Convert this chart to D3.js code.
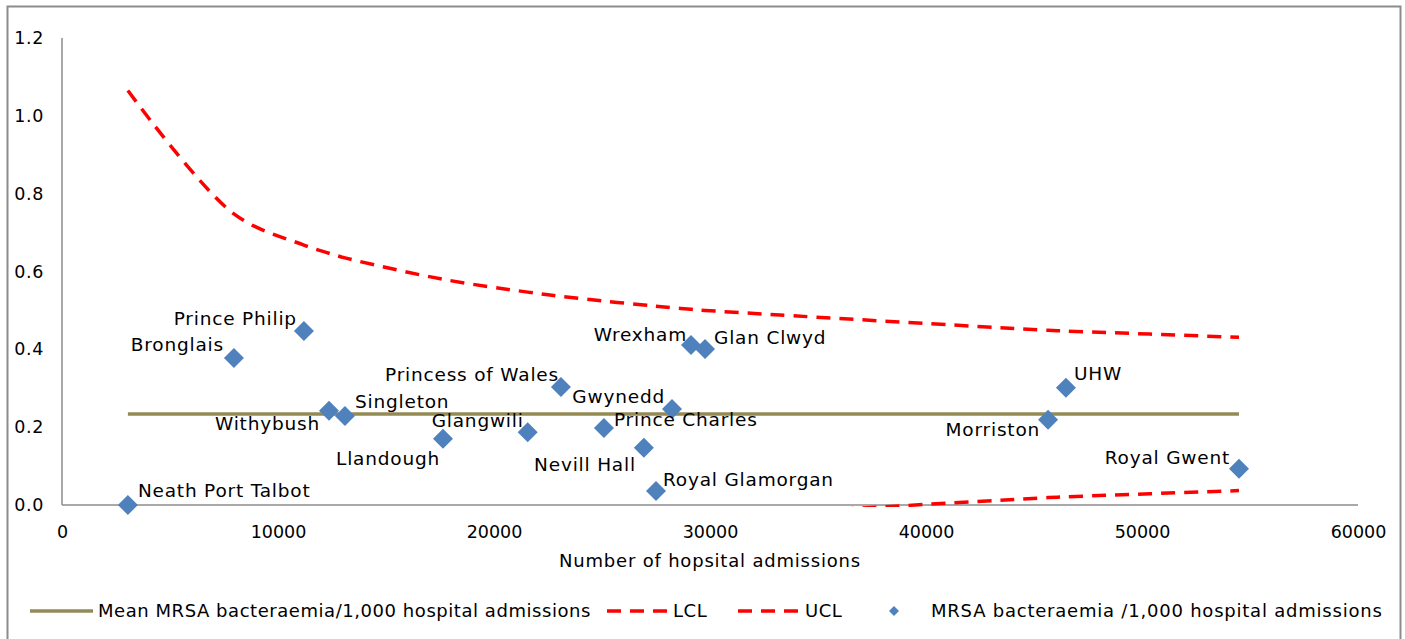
<!DOCTYPE html>
<html>
<head>
<meta charset="utf-8">
<script src="https://cdn.jsdelivr.net/npm/d3@7"></script>
<style>
  body { margin: 0; background: #fff; }
  svg { display: block; font-family: "DejaVu Sans", Verdana, sans-serif; }
</style>
</head>
<body>
<svg id="chart" width="1405" height="639"></svg>
<script>
// hospital data
var hospitals = ["Neath Port Talbot", "Bronglais", "Prince Philip", "Withybush", "Singleton",
  "Llandough", "Glangwili", "Princess of Wales", "Prince Charles", "Nevill Hall",
  "Royal Glamorgan", "Gwynedd", "Wrexham", "Glan Clwyd", "Morriston", "UHW", "Royal Gwent"];
var admissions = [3050, 7960, 11200, 12360, 13100, 17640, 21560, 23100, 25090, 26940,
  27500, 28240, 29120, 29770, 45650, 46480, 54490];
var mrsaRate = [0.000, 0.378, 0.447, 0.242, 0.229, 0.170, 0.187, 0.303, 0.198, 0.147,
  0.036, 0.247, 0.411, 0.401, 0.219, 0.301, 0.093];
var meanRate = [0.234, 0.234, 0.234, 0.234, 0.234, 0.234, 0.234, 0.234, 0.234, 0.234,
  0.234, 0.234, 0.234, 0.234, 0.234, 0.234, 0.234];
var ucl = [1.065, 0.748, 0.668, 0.647, 0.635, 0.580, 0.547, 0.536, 0.524, 0.514,
  0.511, 0.507, 0.503, 0.500, 0.449, 0.447, 0.431];
var lcl = [-0.597, -0.280, -0.200, -0.179, -0.167, -0.112, -0.079, -0.068, -0.056, -0.046,
  -0.043, -0.039, -0.035, -0.032, 0.019, 0.021, 0.037];

var xTicks = [0, 10000, 20000, 30000, 40000, 50000, 60000];
var yTicks = [0.0, 0.2, 0.4, 0.6, 0.8, 1.0, 1.2];

// label offsets (dx, dy, anchor) from each marker, same order as hospitals
var labelPos = [[10, -14, "start"], [-10, -13, "end"], [-7, -13, "end"], [-9, 13, "end"], [10, -14, "start"],
  [-3, 20, "end"], [-4, -12, "end"], [-2, -13, "end"], [10, -8, "start"], [-8, 17, "end"],
  [7, -11, "start"], [-7, -12, "end"], [-4, -11, "end"], [9, -11, "start"], [-8, 10, "end"], [8, -14, "start"], [-9, -11, "end"]];

var svg = d3.select("#chart");

// outer chart border
svg.append("rect")
    .attr("x", 7.5).attr("y", 6.5)
    .attr("width", 1393).attr("height", 660)
    .attr("fill", "none")
    .attr("stroke", "#8c8c8c")
    .attr("stroke-width", 2);

var margin = {top: 38, left: 62},
    width = 1296,
    height = 467,
    g = svg.append("g").attr("transform", "translate(" + margin.left + "," + margin.top + ")");

var x = d3.scaleLinear().domain([0, 60000]).range([0, width]);
var y = d3.scaleLinear().domain([0, 1.2]).range([height, 0]);

var rows = admissions.map(function(a, i) {
  return {name: hospitals[i], x: a, rate: mrsaRate[i], mean: meanRate[i], ucl: ucl[i], lcl: lcl[i], pos: labelPos[i]};
});

// axes (no tick marks, grey lines)
var axisColor = "#8c8c8c";
g.append("line")
    .attr("x1", 0).attr("x2", 0).attr("y1", 0).attr("y2", height)
    .attr("stroke", axisColor).attr("stroke-width", 1.5);
g.append("line")
    .attr("x1", 0).attr("x2", width).attr("y1", height).attr("y2", height)
    .attr("stroke", axisColor).attr("stroke-width", 1.5);

var xAxis = g.append("g")
    .attr("transform", "translate(0," + height + ")")
    .call(d3.axisBottom(x).tickValues(xTicks).tickSize(0).tickPadding(21).tickFormat(d3.format("d")));
var yAxis = g.append("g")
    .call(d3.axisLeft(y).tickValues(yTicks).tickSize(0).tickPadding(18).tickFormat(d3.format(".1f")));
[xAxis, yAxis].forEach(function(a) {
  a.select(".domain").remove();
  a.selectAll("text")
      .attr("fill", "#000")
      .style("font-family", "DejaVu Sans, Verdana, sans-serif")
      .style("font-size", "17.5px");
});
yAxis.selectAll("text").style("letter-spacing", "0.6px");

g.append("text")
    .attr("x", width / 2)
    .attr("y", height + 62)
    .attr("text-anchor", "middle")
    .style("font-size", "18px")
    .style("letter-spacing", "0.8px")
    .text("Number of hopsital admissions");

// clip so the lower control limit is cut at the bottom of the plot
g.append("clipPath").attr("id", "plotclip")
  .append("rect")
    .attr("x", 0).attr("y", -5)
    .attr("width", width).attr("height", height + 7);

var line = function(key) {
  return d3.line()
      .x(function(d) { return x(d.x); })
      .y(function(d) { return y(d[key]); })
      .curve(d3.curveCatmullRom.alpha(0.5));
};

g.append("path")
    .datum(rows)
    .attr("fill", "none")
    .attr("stroke", "#948a54")
    .attr("stroke-width", 3.5)
    .attr("d", line("mean"));

["ucl", "lcl"].forEach(function(key) {
  g.append("path")
      .datum(rows)
      .attr("clip-path", "url(#plotclip)")
      .attr("fill", "none")
      .attr("stroke", "#ff0000")
      .attr("stroke-width", 3.5)
      .attr("stroke-dasharray", "14,9")
      .attr("d", line(key));
});

g.selectAll(".pt")
    .data(rows)
    .enter().append("path")
      .attr("class", "pt")
      .attr("transform", function(d) { return "translate(" + x(d.x) + "," + y(d.rate) + ")"; })
      .attr("d", "M0,-10L10,0L0,10L-10,0Z")
      .attr("fill", "#4f81bd");

g.selectAll(".lbl")
    .data(rows)
    .enter().append("text")
      .attr("class", "lbl")
      .attr("x", function(d) { return x(d.x) + d.pos[0]; })
      .attr("y", function(d) { return y(d.rate) + d.pos[1]; })
      .attr("dy", "0.35em")
      .attr("text-anchor", function(d) { return d.pos[2]; })
      .style("font-size", "18.5px")
      .style("letter-spacing", "0.8px")
      .text(function(d) { return d.name; });

// legend
var legendY = 611;
var legend = svg.append("g").style("font-size", "18px").style("letter-spacing", "0.55px");
legend.append("line")
    .attr("x1", 30).attr("x2", 93).attr("y1", legendY).attr("y2", legendY)
    .attr("stroke", "#948a54").attr("stroke-width", 3.5);
legend.append("text").attr("x", 98).attr("y", legendY).attr("dy", "0.35em")
    .text("Mean MRSA bacteraemia/1,000 hospital admissions");
legend.append("line")
    .attr("x1", 607).attr("x2", 667).attr("y1", legendY).attr("y2", legendY)
    .attr("stroke", "#ff0000").attr("stroke-width", 3.5).attr("stroke-dasharray", "14,9");
legend.append("text").attr("x", 673).attr("y", legendY).attr("dy", "0.35em").text("LCL");
legend.append("line")
    .attr("x1", 738).attr("x2", 798).attr("y1", legendY).attr("y2", legendY)
    .attr("stroke", "#ff0000").attr("stroke-width", 3.5).attr("stroke-dasharray", "14,9");
legend.append("text").attr("x", 805).attr("y", legendY).attr("dy", "0.35em").text("UCL");
legend.append("path")
    .attr("transform", "translate(894," + legendY + ")")
    .attr("d", "M0,-5L5,0L0,5L-5,0Z")
    .attr("fill", "#4f81bd");
legend.append("text").attr("x", 931).attr("y", legendY).attr("dy", "0.35em")
    .style("letter-spacing", "0.78px")
    .text("MRSA bacteraemia /1,000 hospital admissions");
</script>
</body>
</html>
